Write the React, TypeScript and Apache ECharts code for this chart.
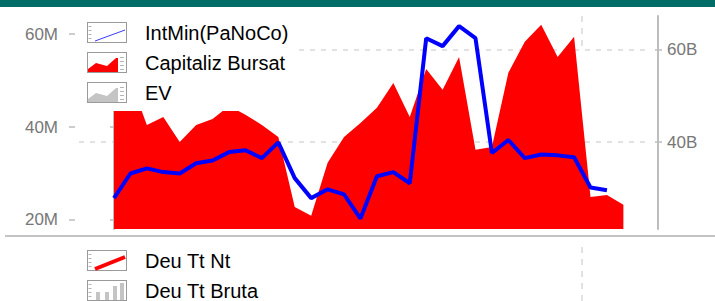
import React, { useEffect, useRef } from "react";
import * as echarts from "echarts";

// IntMin(PaNoCo), millions (left axis)
const intMinPaNoCo = [
  24.7, 30.0, 31.1, 30.3, 30.0, 32.2, 32.8, 34.6, 35.0, 33.3, 36.7, 29.0, 24.7, 26.6, 25.5, 20.3,
  29.4, 30.3, 27.9, 59.1, 57.4, 61.7, 59.1, 34.4, 37.2, 33.3, 34.1, 33.9, 33.5, 27.0, 26.4,
];
// Capitaliz Bursat, billions (right axis)
const capitalizBursat = [
  50.2, 53.4, 43.7, 45.4, 40.0, 43.7, 45.0, 47.8, 45.9, 43.7, 41.1, 25.9, 24.0, 35.5, 41.1, 44.1,
  47.4, 52.8, 45.4, 55.8, 51.3, 58.4, 38.3, 38.9, 55.0, 61.7, 65.4, 58.4, 62.8, 28.1, 28.5, 26.4,
];
const ev: number[] = [];
const deuTtNt: number[] = [];
const deuTtBruta: number[] = [];

const leftTicks = [20, 40, 60];
const rightTicks = [40, 60];
const leftRange = [18.06, 63.88];
const rightRange = [21.15, 67.3];
const xRange = [-2.13, 32.62];
const yearBoundary = 28.47;

const FONT = '"Liberation Sans", Arial, Helvetica, sans-serif';

const toPoints = (arr: number[]) => arr.map((v, i) => [i, v]);

const svgIcon = (inner: string) =>
  "image://data:image/svg+xml;utf8," +
  encodeURIComponent(
    `<svg xmlns="http://www.w3.org/2000/svg" width="53" height="21" viewBox="0 0 53 21">` +
      `<rect x="0.5" y="0.5" width="39" height="20" fill="#ffffff" stroke="#9a9a9a" stroke-width="1"/>` +
      inner +
      `</svg>`
  );
const leftMarks = `<path d="M1.5 4.5h3M1.5 8.5h3M1.5 12.5h3M1.5 16.5h3" stroke="#b5b5b5" stroke-width="1"/>`;
const rightMarks = `<path d="M33 5.5h4M33 9.5h4M33 13.5h4M33 17.5h4" stroke="#b5b5b5" stroke-width="1"/>`;
const areaShape = (c: string) =>
  `<polygon points="1,20 1,17 9,11 20,14 29,6 31,6 31,20" fill="${c}"/>` + rightMarks;

const ICON_INT = svgIcon(leftMarks + `<line x1="8" y1="19" x2="38" y2="8" stroke="#3a3aff" stroke-width="1"/>`);
const ICON_CAP = svgIcon(areaShape("#ff0000"));
const ICON_EV = svgIcon(areaShape("#c4c4c4"));
const ICON_NT = svgIcon(leftMarks + `<line x1="8" y1="19" x2="38" y2="7" stroke="#ff0000" stroke-width="4"/>`);
const ICON_BRUTA = svgIcon(
  leftMarks +
    `<rect x="9" y="12" width="4" height="8" fill="#c4c4c4"/><rect x="18" y="12" width="4" height="8" fill="#c4c4c4"/>` +
    `<rect x="26" y="6" width="4" height="14" fill="#c4c4c4"/><rect x="33" y="3" width="4" height="17" fill="#c4c4c4"/>`
);

const axisGrey = "#bdbdbd";
const labelGrey = "#777777";

export default function App() {
  const ref = useRef<HTMLDivElement>(null);
  useEffect(() => {
    if (!ref.current) return;
    const chart = echarts.init(ref.current, undefined, { renderer: "svg" });
    const legendCommon = {
      type: "plain",
      orient: "vertical",
      left: 79,
      width: 260,
      height: 140,
      padding: 8,
      itemWidth: 53,
      itemHeight: 21,
      itemGap: 9,
      backgroundColor: "#ffffff",
      textStyle: { fontSize: 20, color: "#000000", fontFamily: FONT },
    };
    const mainAxis = (
      pos: string,
      range: number[],
      ticks: number[],
      unit: string,
      offset: number,
      margin: number,
      split: boolean
    ) => ({
      type: "value",
      gridIndex: 0,
      position: pos,
      offset,
      min: range[0],
      max: range[1],
      axisLine: { show: true, lineStyle: { color: axisGrey, width: 2 } },
      axisTick: { show: true, inside: false, length: 4, customValues: ticks, lineStyle: { color: axisGrey, width: 1.5 } },
      axisLabel: {
        show: true,
        customValues: ticks,
        formatter: (v: number) => `${v}${unit}`,
        margin,
        color: labelGrey,
        fontSize: 17,
        fontFamily: FONT,
      },
      splitLine: split
        ? { show: true, lineStyle: { type: [5, 6], color: "#e2e2e2", width: 2 } }
        : { show: false },
    });
    const innerTickAxis = (pos: string, range: number[], ticks: number[], offset: number, len: number) => ({
      type: "value",
      gridIndex: 0,
      position: pos,
      offset,
      min: range[0],
      max: range[1],
      axisLine: { show: false },
      axisTick: { show: true, inside: true, length: len, customValues: ticks, lineStyle: { color: axisGrey, width: 1.5 } },
      axisLabel: { show: false },
      splitLine: { show: false },
    });
    const option = {
      animation: false,
      textStyle: { fontFamily: FONT },
      grid: [
        { left: 79, right: 65, top: 16, height: 213 },
        { left: 79, right: 65, top: 243, height: 200 },
      ],
      xAxis: [
        { type: "value", gridIndex: 0, min: xRange[0], max: xRange[1], show: false },
        { type: "value", gridIndex: 1, min: xRange[0], max: xRange[1], show: false },
      ],
      yAxis: [
        mainAxis("left", leftRange, leftTicks, "M", 10, 11, false),
        mainAxis("right", rightRange, rightTicks, "B", 8, 9, true),
        innerTickAxis("left", leftRange, leftTicks, 10, 6),
        innerTickAxis("right", rightRange, rightTicks, 8, 3),
        { type: "value", gridIndex: 1, min: 0, max: 1, show: false, splitLine: { show: false } },
      ],
      legend: [
        {
          ...legendCommon,
          top: 14,
          data: [
            { name: "IntMin(PaNoCo)", icon: ICON_INT },
            { name: "Capitaliz Bursat", icon: ICON_CAP },
            { name: "EV", icon: ICON_EV },
          ],
        },
        {
          ...legendCommon,
          top: 242,
          data: [
            { name: "Deu Tt Nt", icon: ICON_NT },
            { name: "Deu Tt Bruta", icon: ICON_BRUTA },
          ],
        },
      ],
      series: [
        {
          name: "EV",
          type: "line",
          xAxisIndex: 0,
          yAxisIndex: 1,
          data: toPoints(ev),
          color: "#c4c4c4",
          showSymbol: false,
          symbol: "none",
          lineStyle: { width: 0 },
          areaStyle: { color: "#c4c4c4", opacity: 1 },
        },
        {
          name: "Capitaliz Bursat",
          type: "line",
          xAxisIndex: 0,
          yAxisIndex: 1,
          data: toPoints(capitalizBursat),
          color: "#ff0000",
          showSymbol: false,
          symbol: "none",
          lineStyle: { width: 0 },
          areaStyle: { color: "#ff0000", opacity: 1 },
          markLine: {
            silent: true,
            symbol: ["none", "none"],
            label: { show: false },
            lineStyle: { type: [6, 6], color: "#e2e2e2", width: 2 },
            data: [[{ coord: [yearBoundary, rightRange[1]] }, { coord: [yearBoundary, 60] }]],
          },
        },
        {
          name: "IntMin(PaNoCo)",
          type: "line",
          xAxisIndex: 0,
          yAxisIndex: 0,
          data: toPoints(intMinPaNoCo),
          color: "#0000ff",
          showSymbol: false,
          symbol: "none",
          lineStyle: { width: 4, color: "#0000ff" },
          z: 3,
        },
        {
          name: "Deu Tt Nt",
          type: "line",
          xAxisIndex: 1,
          yAxisIndex: 4,
          data: toPoints(deuTtNt),
          color: "#ff0000",
          showSymbol: false,
          lineStyle: { width: 4 },
          markLine: {
            silent: true,
            symbol: ["none", "none"],
            label: { show: false },
            lineStyle: { type: [6, 6], color: "#e2e2e2", width: 2 },
            data: [{ xAxis: yearBoundary }],
          },
        },
        {
          name: "Deu Tt Bruta",
          type: "bar",
          xAxisIndex: 1,
          yAxisIndex: 4,
          data: toPoints(deuTtBruta),
          color: "#c4c4c4",
        },
      ],
      graphic: [
        { type: "rect", x: 0, y: 0, shape: { x: 0, y: 0, width: 715, height: 7 }, style: { fill: "#006d68" }, z: 10 },
        {
          type: "line",
          x: 0,
          y: 0,
          shape: { x1: 5, y1: 236, x2: 715, y2: 236 },
          style: { stroke: "#c4c4c4", lineWidth: 2 },
          z: 10,
        },
      ],
    };
    chart.setOption(option as any);
    return () => chart.dispose();
  }, []);
  return (
    <div
      ref={ref}
      style={{ position: "fixed", left: 0, top: 0, width: 715, height: 301, background: "#ffffff" }}
    />
  );
}
